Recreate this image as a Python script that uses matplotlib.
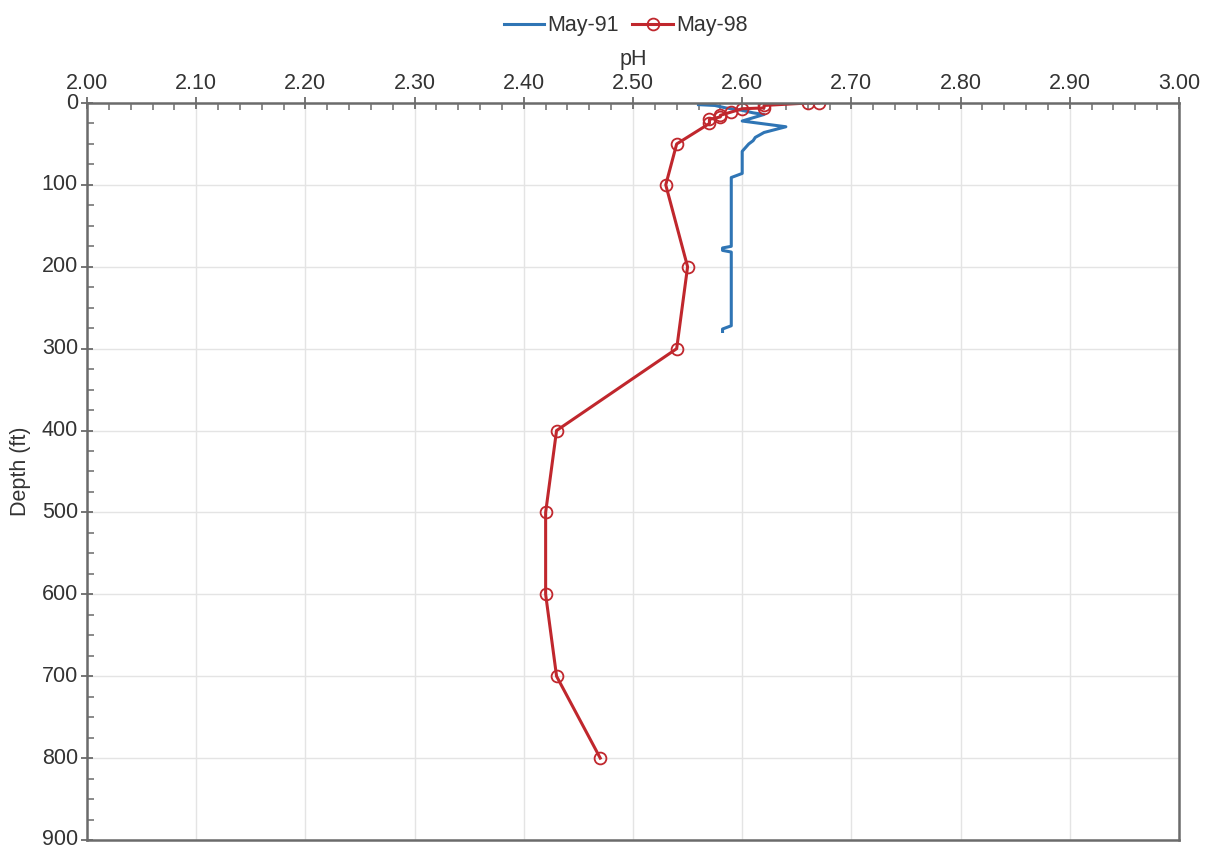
import numpy as np
import matplotlib
matplotlib.use("Agg")
import matplotlib.pyplot as plt
from matplotlib.ticker import MultipleLocator, FormatStrFormatter

plt.rcParams["font.family"] = ["Liberation Sans", "DejaVu Sans"]

# May-91 profile (continuous log)
depth_91 = [2, 3, 6, 9, 12, 14, 22, 29, 36, 42, 46, 50, 59, 62, 86, 91, 175, 177, 180, 182,
            272, 276, 279]
ph_91 = [2.56, 2.575, 2.585, 2.60, 2.61, 2.62, 2.60, 2.64, 2.62, 2.612, 2.61, 2.606, 2.60,
         2.60, 2.60, 2.59, 2.59, 2.582, 2.582, 2.59, 2.59, 2.582, 2.582]

# May-98 profile (discrete samples)
depth_98 = [0, 0, 3, 6, 7, 11, 15, 17, 20, 25, 50, 100, 200, 300, 400, 500, 600, 700, 800]
ph_98 = [2.67, 2.66, 2.62, 2.62, 2.60, 2.59, 2.58, 2.58, 2.57, 2.57, 2.54, 2.53, 2.55, 2.54,
         2.43, 2.42, 2.42, 2.43, 2.47]

blue = "#2f75b5"
red = "#c0272d"
spine_col = "#6b6b6b"
text_col = "#333333"

fig = plt.figure(figsize=(12.22, 8.52), dpi=100)
ax = fig.add_axes([0.0712, 0.0141, 0.8936, 0.8650])

ax.plot(ph_91, depth_91, color=blue, lw=2.2, label="May-91")
ax.plot(ph_98, depth_98, color=red, lw=2.2, marker="o", ms=8.5,
        mfc="none", mec=red, mew=1.3, label="May-98")

ax.set_xlim(2.0, 3.0)
ax.set_ylim(900, 0)

ax.xaxis.tick_top()
ax.xaxis.set_label_position("top")
ax.xaxis.set_major_locator(MultipleLocator(0.1))
ax.xaxis.set_minor_locator(MultipleLocator(0.02))
ax.xaxis.set_major_formatter(FormatStrFormatter("%.2f"))
ax.yaxis.set_major_locator(MultipleLocator(100))
ax.yaxis.set_minor_locator(MultipleLocator(25))

ax.tick_params(axis="both", which="major", direction="inout", length=9, width=1.3,
               color=spine_col, labelsize=15.5, labelcolor=text_col, pad=2)
ax.tick_params(axis="both", which="minor", direction="in", length=5, width=1.1,
               color=spine_col)
ax.tick_params(axis="x", which="both", top=True, bottom=False)
for lbl in ax.get_yticklabels():
    lbl.set_verticalalignment("center")

ax.grid(True, which="major", color="#e4e4e4", lw=1.0)
ax.set_axisbelow(True)

for sp in ax.spines.values():
    sp.set_color(spine_col)
    sp.set_linewidth(1.8)

ax.set_xlabel("pH", fontsize=15.5, color=text_col, labelpad=6)
ax.set_ylabel("Depth (ft)", fontsize=15.5, color=text_col, labelpad=8)

fig.legend(loc="upper center", bbox_to_anchor=(0.512, 1.005), ncol=2, frameon=False,
           fontsize=15.5, handlelength=1.9, handletextpad=0.15, columnspacing=0.6,
           labelcolor=text_col)

fig.savefig("out.png", dpi=100)
